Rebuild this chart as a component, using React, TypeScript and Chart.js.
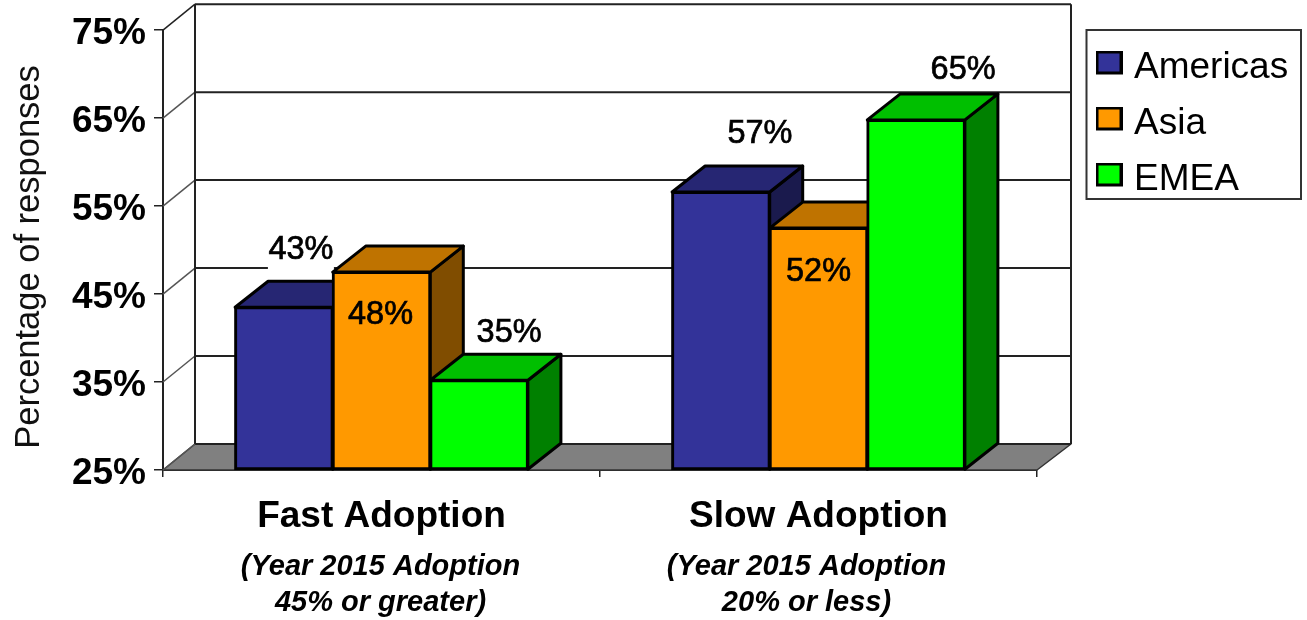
import React, { useEffect, useRef } from "react";
import { Chart, registerables } from "chart.js";

Chart.register(...registerables);

const categories = ["Fast Adoption", "Slow Adoption"];
const subtitles = [
  ["(Year 2015 Adoption", "45% or greater)"],
  ["(Year 2015 Adoption", "20% or less)"],
];
const americas = [43.5, 56.6];
const asia = [47.5, 52.5];
const emea = [35.2, 64.8];
const americasLabels = ["43%", "57%"];
const asiaLabels = ["48%", "52%"];
const emeaLabels = ["35%", "65%"];
const yAxisTitle = "Percentage of responses";

const FONT = '"Liberation Sans", Arial, sans-serif';
const DX = 33;
const DY = 26;
const shades = [
  { top: "#262673", side: "#1a1a4d" },
  { top: "#bf7300", side: "#804d00" },
  { top: "#00bf00", side: "#008000" },
];
const labelTexts = [americasLabels, asiaLabels, emeaLabels];
// label centre relative to the bar's top-centre: [dx, dy, sits on white]
const labelNudge = [
  [[17, -57, true], [39, -58, true]],
  [[-1, 43, false], [0, 44, false]],
  [[30, -47, true], [47, -50, true]],
];
const subtitleShift = [-1, -12];

function poly(ctx: CanvasRenderingContext2D, pts: number[][], fill: string | null, stroke: string, lw: number) {
  ctx.beginPath();
  pts.forEach((p, i) => (i ? ctx.lineTo(p[0], p[1]) : ctx.moveTo(p[0], p[1])));
  ctx.closePath();
  if (fill) {
    ctx.fillStyle = fill;
    ctx.fill();
  }
  ctx.strokeStyle = stroke;
  ctx.lineWidth = lw;
  ctx.lineJoin = "round";
  ctx.stroke();
}

function swatch(color: string) {
  const c = document.createElement("canvas");
  c.width = 27;
  c.height = 34;
  const g = c.getContext("2d")!;
  g.fillStyle = "#000";
  g.fillRect(0, 0, 27, 24);
  g.fillStyle = color;
  g.fillRect(3, 3, 21, 18);
  return c;
}

const stagePlugin = {
  id: "stage3d",
  afterLayout(chart: any) {
    const lg = chart.legend;
    if (!lg) return;
    const w = lg.width;
    const h = lg.height;
    lg.left = 1083.5;
    lg.right = 1083.5 + w;
    lg.top = 30;
    lg.bottom = 30 + h;
  },
  beforeDraw(chart: any) {
    const { ctx } = chart;
    ctx.save();
    ctx.fillStyle = "#fff";
    ctx.fillRect(1086.5, 30, 214.5, 169);
    ctx.strokeStyle = "#333";
    ctx.lineWidth = 2;
    ctx.strokeRect(1086.5, 30, 214.5, 169);
    ctx.restore();
  },
  beforeDatasetsDraw(chart: any) {
    const { ctx, chartArea: a } = chart;
    const y = chart.scales.y;
    ctx.save();
    const bx0 = a.left + DX - 1;
    const bx1 = a.right + DX + 1;
    const floorY = a.bottom;
    poly(ctx, [[a.left, floorY], [bx0, floorY - DY], [bx1, floorY - DY], [a.right, floorY]], "#808080", "#333", 1.5);
    y.ticks.forEach((t: any) => {
      const py = y.getPixelForValue(t.value);
      ctx.strokeStyle = "#222";
      ctx.lineWidth = 2;
      ctx.beginPath();
      ctx.moveTo(bx0, py - DY);
      ctx.lineTo(bx1, py - DY);
      ctx.stroke();
      ctx.lineWidth = 1.5;
      ctx.strokeStyle = t.value === 75 ? "#222" : "#555";
      ctx.beginPath();
      ctx.moveTo(a.left, py);
      ctx.lineTo(bx0, py - DY);
      ctx.stroke();
    });
    ctx.strokeStyle = "#222";
    ctx.lineWidth = 2;
    ctx.beginPath();
    ctx.moveTo(bx0, y.top - DY);
    ctx.lineTo(bx0, floorY - DY);
    ctx.moveTo(bx1, y.top - DY);
    ctx.lineTo(bx1, floorY - DY);
    ctx.stroke();
    // white patches that interrupt the wall lines behind outside labels
    ctx.fillStyle = "#fff";
    chart.data.datasets.forEach((_: any, di: number) => {
      chart.getDatasetMeta(di).data.forEach((el: any, i: number) => {
        const [dx, dy, onWhite] = labelNudge[di][i] as [number, number, boolean];
        if (onWhite) ctx.fillRect(el.x + dx - 33, el.y + dy - 21, 66, 41);
      });
    });
    // side and top faces, left to right; the front faces are the library's bars
    chart.data.datasets.forEach((_: any, di: number) => {
      const s = shades[di];
      chart.getDatasetMeta(di).data.forEach((el: any) => {
        const l = el.x - el.width / 2;
        const r = el.x + el.width / 2;
        const t = el.y;
        const b = el.base;
        poly(ctx, [[r, t], [r + DX, t - DY], [r + DX, b - DY], [r, b]], s.side, "#000", 3);
        poly(ctx, [[l, t], [l + DX, t - DY], [r + DX, t - DY], [r, t]], s.top, "#000", 3);
      });
    });
    ctx.restore();
  },
  afterDatasetsDraw(chart: any) {
    const { ctx } = chart;
    ctx.save();
    ctx.fillStyle = "#000";
    ctx.strokeStyle = "#000";
    ctx.lineWidth = 0.7;
    ctx.textAlign = "center";
    ctx.textBaseline = "middle";
    ctx.font = `32.5px ${FONT}`;
    chart.data.datasets.forEach((_: any, di: number) => {
      chart.getDatasetMeta(di).data.forEach((el: any, i: number) => {
        const [dx, dy] = labelNudge[di][i] as [number, number, boolean];
        ctx.strokeText(labelTexts[di][i], el.x + dx, el.y + dy);
        ctx.fillText(labelTexts[di][i], el.x + dx, el.y + dy);
      });
    });
    const x = chart.scales.x;
    ctx.font = `italic bold 29px ${FONT}`;
    subtitles.forEach((lines, i) => {
      const cx = x.getPixelForValue(i) + subtitleShift[i];
      lines.forEach((line, j) => ctx.fillText(line, cx, 567 + j * 36));
    });
    ctx.translate(29.5, 257);
    ctx.rotate(-Math.PI / 2);
    ctx.font = `34.5px ${FONT}`;
    ctx.fillStyle = "#111";
    ctx.fillText(yAxisTitle, 0, 0);
    ctx.restore();
  },
};

export default function App() {
  const ref = useRef<HTMLCanvasElement>(null);
  useEffect(() => {
    const barOpts = {
      base: 25,
      clip: false,
      borderColor: "#000",
      borderWidth: 3,
      borderSkipped: false,
      categoryPercentage: 0.67,
      barPercentage: 1,
      inflateAmount: 1,
    };
    const chart = new Chart(ref.current!, {
      type: "bar",
      data: {
        labels: categories,
        datasets: [
          { label: "Americas", data: americas, backgroundColor: "#333399", ...barOpts },
          { label: "Asia", data: asia, backgroundColor: "#ff9900", ...barOpts },
          { label: "EMEA", data: emea, backgroundColor: "#00ff00", ...barOpts },
        ],
      } as any,
      options: {
        animation: false,
        responsive: false,
        layout: { padding: { top: 30, right: 270, left: 0, bottom: 0 } },
        plugins: {
          tooltip: { enabled: false },
          legend: {
            position: "chartArea",
            fullSize: false,
            align: "start",
            labels: {
              usePointStyle: true,
              boxWidth: 13,
              padding: 19,
              color: "#000",
              font: { family: FONT, size: 37 },
              generateLabels: (c: any) =>
                c.data.datasets.map((d: any, i: number) => ({
                  text: d.label,
                  pointStyle: swatch(d.backgroundColor),
                  datasetIndex: i,
                  fontColor: "#000",
                  hidden: false,
                  lineWidth: 0,
                  strokeStyle: "transparent",
                  fillStyle: d.backgroundColor,
                })),
            },
          },
        },
        scales: {
          x: {
            afterFit: (s: any) => {
              s.height = 150;
            },
            grid: { drawOnChartArea: false, drawTicks: true, tickLength: 7, color: "#222", lineWidth: 1.5 },
            border: { color: "#222", width: 2 },
            ticks: {
              padding: 18,
              color: "#000",
              maxRotation: 0,
              font: { family: FONT, size: 37, weight: "bold" },
            },
          },
          y: {
            min: 25,
            max: 75,
            afterFit: (s: any) => {
              s.width = 163;
            },
            grid: { drawOnChartArea: false, drawTicks: true, tickLength: 9, color: "#222", lineWidth: 1.5 },
            border: { color: "#222", width: 2 },
            ticks: {
              stepSize: 10,
              padding: 8,
              labelOffset: 4,
              color: "#000",
              font: { family: FONT, size: 37, weight: "bold" },
              callback: (v: any) => `${v}%`,
            },
          },
        },
      } as any,
      plugins: [stagePlugin],
    });
    return () => chart.destroy();
  }, []);
  return (
    <div style={{ position: "fixed", left: 0, top: 0, width: 1307, height: 620, background: "#fff" }}>
      <canvas ref={ref} width={1307} height={620} style={{ display: "block" }} />
    </div>
  );
}
